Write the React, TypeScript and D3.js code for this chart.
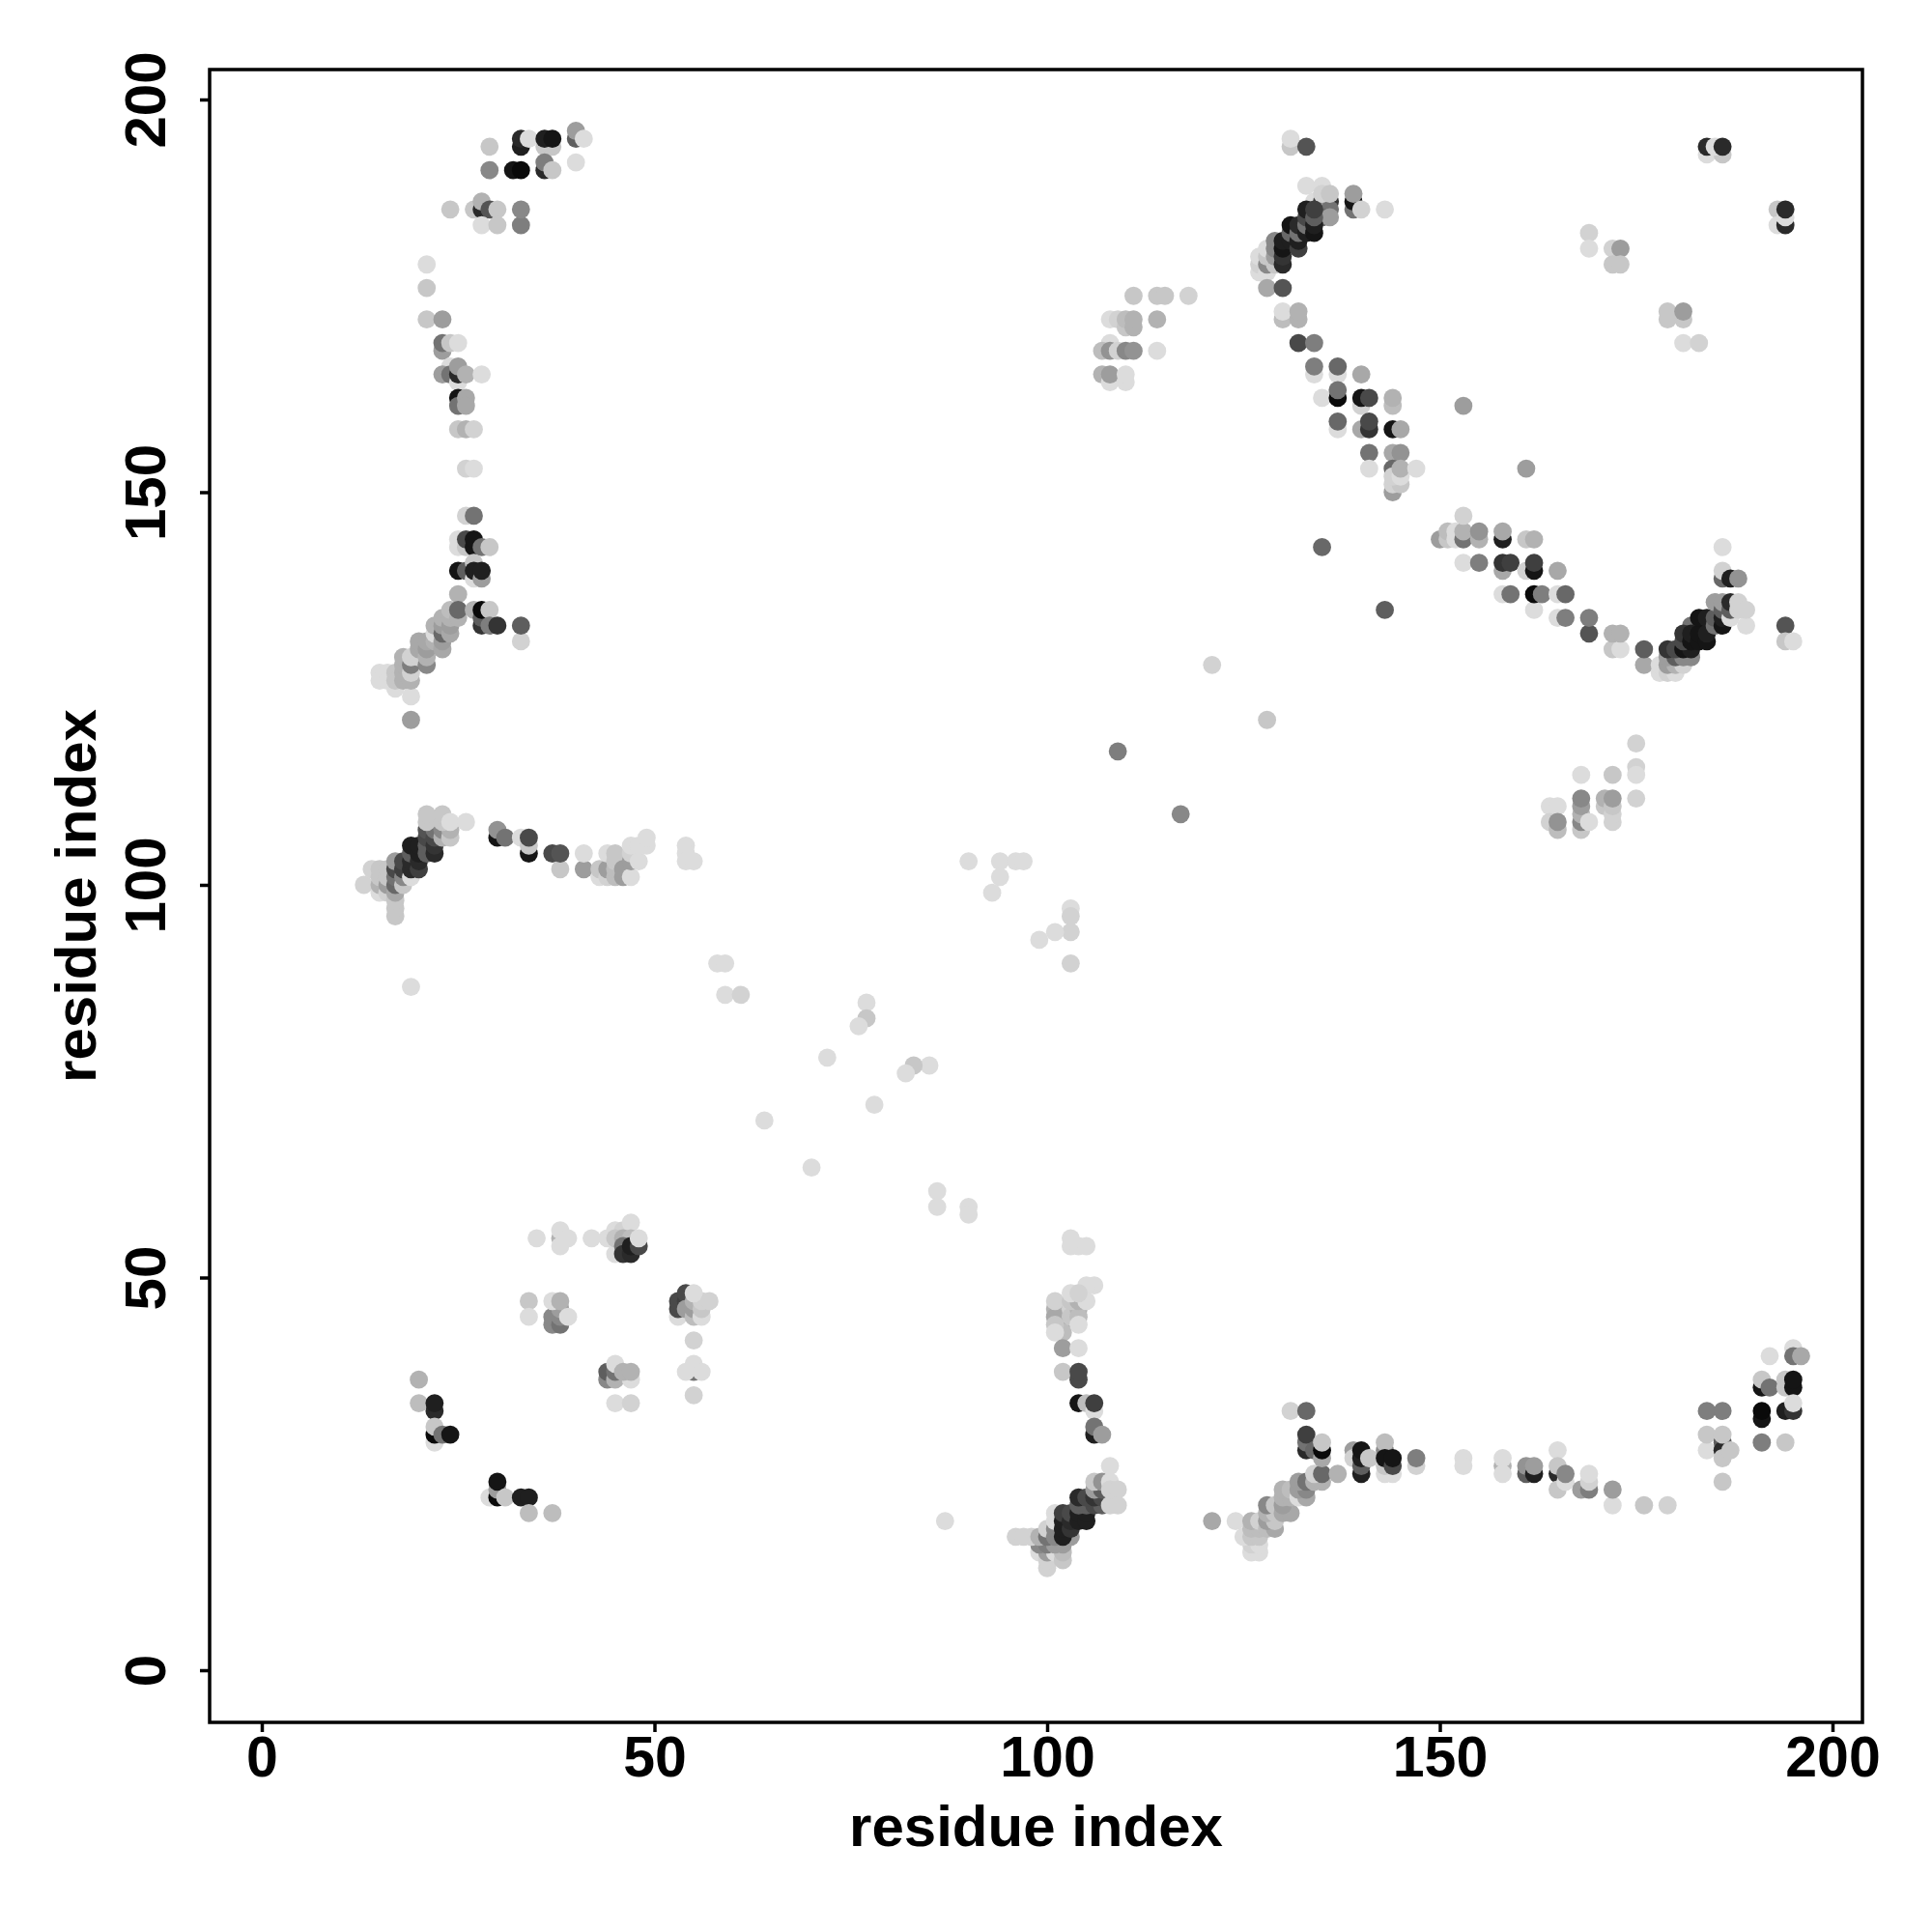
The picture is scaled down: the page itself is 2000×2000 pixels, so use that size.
import React, { useEffect, useRef } from 'react';
import * as d3 from 'd3';

// [residue i, residue j, contact score]
type Contact = [number, number, number];

const xTicks = [0, 50, 100, 150, 200];
const yTicks = [0, 50, 100, 150, 200];
const xTitle = 'residue index';
const yTitle = 'residue index';

const diagonal: Contact[] = [
  [19,87,0],[59,86,0],[61,86,.05],[58,90,0],[59,90,0],[77,85,0],[77,83,.1],[76,82,0],[72,78,0],[85,77,0],[83,77,.1],[82,76,0],
  [78,72,0],[64,70,0],[70,64,0],[86,61,0],[86,59,0],[90,59,0],[90,58,0],[87,19,0],
  [90,103,0],[94,103,0],[96,103,0],[97,103,0],[94,101,0],[93,99,0],[103,97,0],[103,96,.05],[103,94,.05],[101,94,0],[99,93,0],[103,90,.05],
  [109,117,.45],[117,109,.4],[121,128,.05],[128,121,.1],[143,135,.6],[135,143,.55],[153,161,.3],[161,153,.3],
];

const lowerLeft: Contact[] = [
  [35,55,0],[38,55,.2],[38,56,0],[38,54,0],[39,55,0],[42,55,0],
  [45,53,0],[44,55,0],[45,56,0],[46,56,.05],[47,57,0],[45,55,.1],[46,55,.2],[47,55,.15],[46,54,.5],[46,53,.8],[47,53,.85],[47,54,.9],[48,54,.7],[48,55,0],
  [34,47,.1],[34,45,0],[37,44,.4],[37,45,.4],[38,44,.5],[38,45,.4],[38,46,.3],[37,47,0],[38,47,.2],[39,45,0],
  [44,37,.4],[44,38,.6],[45,37,.2],[45,38,.5],[45,39,0],[47,37,0],[46,38,.2],[47,38,.2],[45,34,0],[47,34,.05],
  [53,45,0],[53,46,.7],[53,47,.7],[54,47,.75],[54,48,.7],[54,46,.3],[55,45,.15],[55,46,.3],[55,47,.2],[56,45,0],[56,46,.1],[56,47,.05],[55,48,0],[57,47,.05],
  [55,42,.05],[55,38,.5],[54,38,0],[55,39,0],[56,38,0],[55,35,.05],
  [20,37,.2],[20,34,.15],[22,33,.85],[22,34,.9],[22,29,0],[22,30,1],[22,31,.1],[23,30,.5],[24,30,.95],
  [29,22,0],[30,22,1],[30,23,.3],[30,24,.95],[31,22,.1],[33,22,.9],[34,22,.9],[34,20,.15],[37,20,.15],
];

const lowerMiddle: Contact[] = [
  [103,55,0],[103,54,0],[104,54,0],[105,54,0],[106,49,0],[105,49,0],[102,46,.2],[102,44,.3],[102,43,.15],[101,46,.2],[101,45,.25],[101,44,.1],[101,43,0],
  [103,46,.05],[103,45,.1],[104,46,.2],[104,45,.15],[104,44,0],[101,47,.05],[103,47,.1],[104,47,.2],[105,47,0],[103,48,0],[104,48,.05],
  [102,41,.3],[104,41,0],[102,38,.1],[104,37,.7],[104,38,.7],[104,34,.95],[105,34,.15],[106,33,0],[106,34,.75],[106,30,.9],[106,31,.5],[107,30,.3],
  [99,15,0],[100,13,.05],[100,14,.05],[100,15,.3],[101,15,0],[102,14,.1],[102,15,.15],[99,16,.4],[100,16,.45],[101,16,.3],[102,16,.3],
  [96,17,.05],[97,17,.05],[98,17,.05],[99,17,.2],[100,17,.5],[100,18,.05],[101,17,.4],[101,18,.4],[101,19,0],[101,20,0],[103,17,.3],
  [102,17,.9],[102,18,.9],[102,19,.9],[102,20,.75],[103,18,.8],[103,19,.85],[103,20,.7],[104,19,.9],[104,20,.9],[105,19,.9],[105,20,.9],
  [104,21,.6],[105,21,.6],[106,21,.7],[107,21,.6],[104,22,.85],[105,22,.7],[106,22,.8],[107,22,.7],[106,23,.3],[107,23,.6],[106,24,.1],[107,24,.35],
  [108,24,0],[108,23,.05],[109,23,.05],[108,21,.05],[109,21,.05],[108,26,0],
];

const lowerRight: Contact[] = [
  [121,19,.25],[124,19,0],[126,15,0],[127,15,0],[126,16,.05],[127,16,0],[125,17,0],[126,17,.1],[127,17,.1],[126,18,.15],[127,18,.15],[126,19,.2],[127,19,.05],
  [128,18,.15],[129,18,.25],[128,19,.3],[129,19,.1],[128,20,.2],[129,20,.1],[128,21,.4],[129,21,.1],[130,20,.25],[131,20,.25],[130,21,.3],[130,22,.2],[131,22,.2],
  [130,23,.2],[131,23,.15],[132,22,0],[133,22,.25],[132,23,.3],[133,23,.4],[132,24,.3],[133,24,.5],[134,24,.2],[135,24,.2],[134,25,.05],[135,25,.55],[137,25,.2],
  [131,33,.05],[133,33,.55],[133,28,.85],[133,29,.5],[133,30,.75],[134,28,.55],[135,27,.25],[135,28,1],[135,29,.1],
  [139,28,.3],[139,27,.05],[140,25,.9],[140,26,.6],[140,27,.9],[140,28,.95],[141,27,.1],[143,25,0],[144,25,0],[143,26,.1],[143,28,.4],[143,29,.15],[143,27,.95],[144,26,.7],[144,27,.95],[147,26,.05],[147,27,.45],
  [153,27,0],[153,26,0],[158,26,.2],[158,27,0],[158,25,0],[161,25,.6],[161,26,.35],[162,25,.9],[162,26,.3],[165,28,0],[165,25,.85],[165,23,.1],[165,26,.1],[166,24,0],[166,25,.4],
  [168,23,.3],[169,23,.45],[169,24,.05],[169,25,0],[172,21,0],[172,23,.3],[176,21,.1],[179,21,.05],
  [184,33,.45],[186,33,.45],[184,28,0],[184,30,.1],[186,29,.6],[186,28,.85],[186,27,.1],[186,30,.1],[187,28,.1],[186,24,.1],
  [192,40,0],[195,41,0],[195,40,.5],[196,40,.25],[191,36,.95],[191,37,.1],[192,36,.5],[194,36,.1],[194,37,.1],[195,36,.95],[195,37,.95],
  [191,32,.95],[191,33,1],[194,33,.9],[195,33,.8],[195,34,0],[191,29,.45],[194,29,.1],
];

const upperLeft: Contact[] = [
  [40,195,.6],[40,196,.3],[41,195,0],[40,192,0],[29,194,.1],[33,194,.9],[33,195,.85],[34,195,0],[36,194,.1],[37,194,.1],[36,195,.9],[37,195,.95],
  [29,191,.4],[32,191,.95],[33,191,1],[36,191,.85],[36,192,.45],[37,191,.1],
  [24,186,.1],[27,186,.1],[28,186,.85],[28,187,.2],[29,186,.65],[30,186,.1],[28,184,0],[30,184,.1],[33,184,.45],[33,186,.4],
  [21,179,0],[21,176,.1],[21,172,.1],[23,172,.3],[23,168,.3],[23,169,.5],[24,169,.1],[25,169,0],
  [24,166,0],[23,165,.3],[24,165,.5],[25,164,0],[25,165,.85],[25,166,.3],[26,165,.2],[28,165,0],
  [25,162,.95],[25,161,.5],[26,162,.25],[26,161,.25],[25,158,.1],[26,158,.2],[27,158,.05],[26,153,.05],[27,153,0],
  [26,147,.05],[27,147,.5],[25,143,0],[25,144,0],[26,143,.1],[26,144,.7],[27,143,.95],[27,144,.95],[28,143,.5],[29,143,.1],
  [25,140,.95],[26,140,.6],[27,139,0],[27,141,.1],[27,140,.9],[28,139,.3],[28,140,.9],[25,137,.2],
  [15,127,0],[15,126,0],[16,127,0],[16,126,0],[17,125,0],[17,127,.1],[17,126,.1],[19,124,0],[19,121,.3],[18,126,.2],[18,127,.2],[18,128,.2],[18,129,.2],[19,126,.2],[19,127,.05],[19,128,.45],[19,129,.05],
  [20,129,.05],[20,130,.25],[20,131,.25],[21,128,.4],[21,129,.2],[21,130,.3],[21,131,.25],[22,131,.2],[22,132,0],[22,133,.2],[23,130,.25],[23,131,.3],[23,132,.55],[23,133,.3],[23,134,.2],
  [24,132,.25],[24,133,.3],[24,134,.2],[24,135,.15],[25,134,.2],[25,135,.55],[27,135,.2],[28,133,.8],[28,134,.6],[28,135,1],[29,135,.1],[29,133,.45],[30,133,.8],[33,131,.05],[33,133,.6],
];

const middleLeft: Contact[] = [
  [13,100,.05],[14,102,.05],[15,99,0],[15,100,.2],[15,101,.1],[15,102,.1],[16,99,.05],[16,100,.3],[16,101,.1],[16,102,.1],[17,96,.1],[17,97,.1],[17,98,.1],[17,99,.25],[17,100,.55],[17,101,.5],[17,102,.7],[17,103,.3],
  [18,100,.1],[18,101,.4],[18,102,.75],[18,103,.7],[19,101,0],[19,102,.85],[19,103,.85],[19,104,.6],[19,105,.9],[20,102,.75],[20,103,.85],[20,104,.9],[20,105,.9],
  [21,104,.6],[21,105,.6],[21,106,.7],[21,107,.65],[22,104,.85],[22,105,.8],[22,106,.7],[22,107,.5],[23,106,.2],[23,107,.4],[24,106,.1],[24,107,.2],
  [21,108,.1],[21,109,.1],[23,108,.1],[23,109,.1],[24,108,0],[26,108,0],
  [30,106,.95],[30,107,.35],[31,106,.5],[33,106,0],[34,104,.95],[34,105,.1],[34,106,.7],[37,104,.7],[38,102,.1],[38,104,.65],[41,102,.3],[41,104,0],
  [43,101,0],[43,102,.1],[44,101,.05],[44,102,.3],[44,104,0],[45,101,.15],[45,102,.15],[45,103,.1],[45,104,.1],[46,101,.3],[46,102,.3],[47,101,0],[47,103,.3],[47,104,.05],[47,105,0],[48,103,0],[48,105,0],[49,105,0],[49,106,0],
  [54,105,0],[54,104,0],[54,103,0],[55,103,0],
];

const upperMiddle: Contact[] = [
  [111,175,.1],[114,175,.1],[115,175,.1],[118,175,.05],[108,172,0],[109,172,.05],[110,171,.1],[110,172,.15],[111,171,.2],[111,172,.2],[114,172,.2],
  [108,169,0],[107,168,.15],[108,168,.35],[109,168,.05],[110,168,.4],[111,168,.35],[114,168,0],[107,165,.2],[108,164,0],[108,165,.3],[110,164,0],[110,165,0],
];

const upperArc: Contact[] = [
  [131,194,.1],[131,195,0],[133,194,.65],[133,189,0],[135,189,0],[134,187,0],[135,187,.75],[136,187,.8],[135,186,.3],[136,186,.5],[135,185,.55],[136,185,.3],[135,188,.05],[136,188,.1],
  [139,186,.5],[139,187,.95],[139,188,.3],[140,186,.05],[143,186,0],
  [127,178,0],[127,179,.05],[127,180,0],[128,178,0],[128,179,.4],[128,180,.1],[128,181,0],[129,179,.1],[129,180,.3],[129,181,.4],[129,182,.4],
  [130,179,.85],[130,180,.8],[130,181,.95],[130,182,.9],[131,182,.9],[131,183,.55],[131,184,.95],[132,181,.75],[132,182,.9],[132,183,.5],[132,184,.85],
  [133,183,.9],[133,184,.5],[133,185,.7],[133,186,.9],[134,183,.95],[134,184,.9],[134,185,.6],[134,186,.75],
  [128,176,.25],[130,176,.65],[130,172,.15],[130,173,0],[132,172,.2],[132,173,.2],[132,169,.7],[134,169,.45],
  [134,165,0],[134,166,.45],[137,165,0],[137,166,.55],[140,165,.25],[135,162,0],[137,162,1],[137,163,.5],[140,161,.05],[140,162,.95],[141,162,.7],[144,161,.15],[144,162,.2],
  [137,158,0],[137,159,.55],[140,158,.25],[141,158,.8],[141,159,.7],[144,158,.95],[145,158,.25],[141,155,.5],[144,155,.25],[145,155,.35],
  [141,153,0],[144,150,.3],[144,153,.55],[144,151,.05],[145,151,.1],[144,152,.05],[145,152,0],[145,153,.2],[147,153,0],
];

const upperRight: Contact[] = [
  [150,144,.3],[151,144,.1],[151,145,.15],[152,144,0],[152,145,0],[153,144,.5],[153,145,.2],[153,147,.05],[155,144,.2],[155,145,.35],[158,144,.9],[158,145,.25],[161,144,.1],[162,144,.2],
  [153,141,0],[155,141,.45],[158,140,.25],[158,141,.8],[159,141,.75],[161,140,.05],[162,140,.95],[162,141,.75],[165,140,.25],
  [158,137,0],[159,137,.5],[162,135,0],[162,137,1],[163,137,.45],[165,137,0],[166,137,.55],[165,134,0],[166,134,.45],[169,132,.65],[169,134,.45],
  [172,130,.1],[173,130,0],[172,132,.2],[173,132,.2],[176,128,.25],[176,130,.6],
  [178,127,0],[178,128,0],[179,127,.05],[180,127,0],[179,128,.3],[180,128,.2],[181,128,.05],[179,129,.3],[180,129,.6],[181,129,.4],[182,129,.4],[179,130,.8],[180,130,.7],[181,130,.95],[182,130,.9],
  [182,133,.5],[183,133,.5],[184,133,.5],[181,131,.7],[181,132,.8],[182,131,.95],[182,132,.9],[183,131,.95],[183,132,.95],[183,134,.95],[184,131,.95],[184,132,.9],[184,134,.9],
  [185,133,.5],[185,134,.6],[185,136,.3],[186,133,.95],[186,134,.9],[186,135,.6],[186,136,.3],[187,134,0],[187,135,.6],[187,136,.85],[188,135,.05],[188,136,.05],[189,133,0],[189,135,.05],
  [186,143,0],[186,139,.55],[186,140,.05],[187,139,.9],[188,139,.35],[194,133,.65],[194,131,.1],[195,131,0],
  [184,193,0],[186,193,.1],[184,194,.85],[185,194,0],[186,194,.85],[193,186,.1],[193,184,0],[194,184,.85],[194,185,0],[194,186,.85],
  [169,183,.05],[169,181,0],[172,181,.05],[173,181,.3],[172,179,.1],[173,179,.1],[179,172,.1],[181,172,.1],[179,173,.1],[181,173,.3],[181,169,0],[183,169,.05],
  [175,118,.05],[175,115,.05],[175,114,0],[175,111,.05],[168,114,0],[172,114,.1],[164,110,0],[165,110,0],[164,108,.05],[165,107,.15],[165,108,.35],
  [168,107,.1],[168,108,.4],[168,109,.2],[168,110,.3],[168,111,.4],[169,108,0],[171,110,.1],[171,111,.2],[172,108,.05],[172,109,.05],[172,110,.1],[172,111,.3],
];

const contacts: Contact[] = [
  ...diagonal, ...lowerLeft, ...lowerMiddle, ...lowerRight, ...upperLeft, ...middleLeft, ...upperMiddle, ...upperArc, ...upperRight,
];

const App: React.FC = () => {
  const svgRef = useRef<SVGSVGElement>(null);

  useEffect(() => {
    if (!svgRef.current) return;

    const left = 217, right = 1928, top = 72, bottom = 1783;
    const x = d3.scaleLinear().domain([0, 200]).range([271, 1897]);
    const y = d3.scaleLinear().domain([0, 200]).range([1729, 103]);
    const shade = d3.scaleLinear<string>().domain([0, 1]).range(['#dcdcdc', '#0a0a0a']);
    const font = '"Liberation Sans", sans-serif';

    const svg = d3.select(svgRef.current);
    svg.selectAll('*').remove();

    svg.append('g')
      .selectAll('circle')
      .data(contacts)
      .enter()
      .append('circle')
      .attr('cx', d => x(d[0]))
      .attr('cy', d => y(d[1]))
      .attr('r', 9.4)
      .attr('fill', d => shade(d[2]));

    svg.append('rect')
      .attr('x', left)
      .attr('y', top)
      .attr('width', right - left)
      .attr('height', bottom - top)
      .attr('fill', 'none')
      .attr('stroke', 'black')
      .attr('stroke-width', 3.5);

    const xAxis = svg.append('g')
      .attr('transform', `translate(0,${bottom})`)
      .call(d3.axisBottom(x).tickValues(xTicks).tickSize(10).tickFormat(d3.format('d') as any));
    xAxis.select('.domain').remove();
    xAxis.selectAll('line').attr('stroke-width', 3.5);
    xAxis.selectAll('text')
      .attr('y', 56)
      .attr('dy', 0)
      .attr('font-size', 59)
      .attr('font-weight', 'bold')
      .attr('font-family', font);

    const yAxis = svg.append('g')
      .attr('transform', `translate(${left},0)`)
      .call(d3.axisLeft(y).tickValues(yTicks).tickSize(10).tickFormat(d3.format('d') as any));
    yAxis.select('.domain').remove();
    yAxis.selectAll('line').attr('stroke-width', 3.5);
    yAxis.selectAll('text')
      .attr('transform', 'rotate(-90)')
      .attr('x', 0)
      .attr('y', -46)
      .attr('dy', 0)
      .attr('text-anchor', 'middle')
      .attr('font-size', 60)
      .attr('font-weight', 'bold')
      .attr('font-family', font);

    svg.append('text')
      .attr('x', (left + right) / 2)
      .attr('y', 1911)
      .attr('text-anchor', 'middle')
      .attr('font-size', 60)
      .attr('font-weight', 'bold')
      .attr('font-family', font)
      .text(xTitle);

    svg.append('text')
      .attr('transform', `translate(99,${(top + bottom) / 2}) rotate(-90)`)
      .attr('text-anchor', 'middle')
      .attr('font-size', 60)
      .attr('font-weight', 'bold')
      .attr('font-family', font)
      .text(yTitle);
  }, []);

  return (
    <svg
      ref={svgRef}
      width={2000}
      height={2000}
      style={{ position: 'absolute', left: 0, top: 0, background: 'white' }}
    />
  );
};

export default App;
